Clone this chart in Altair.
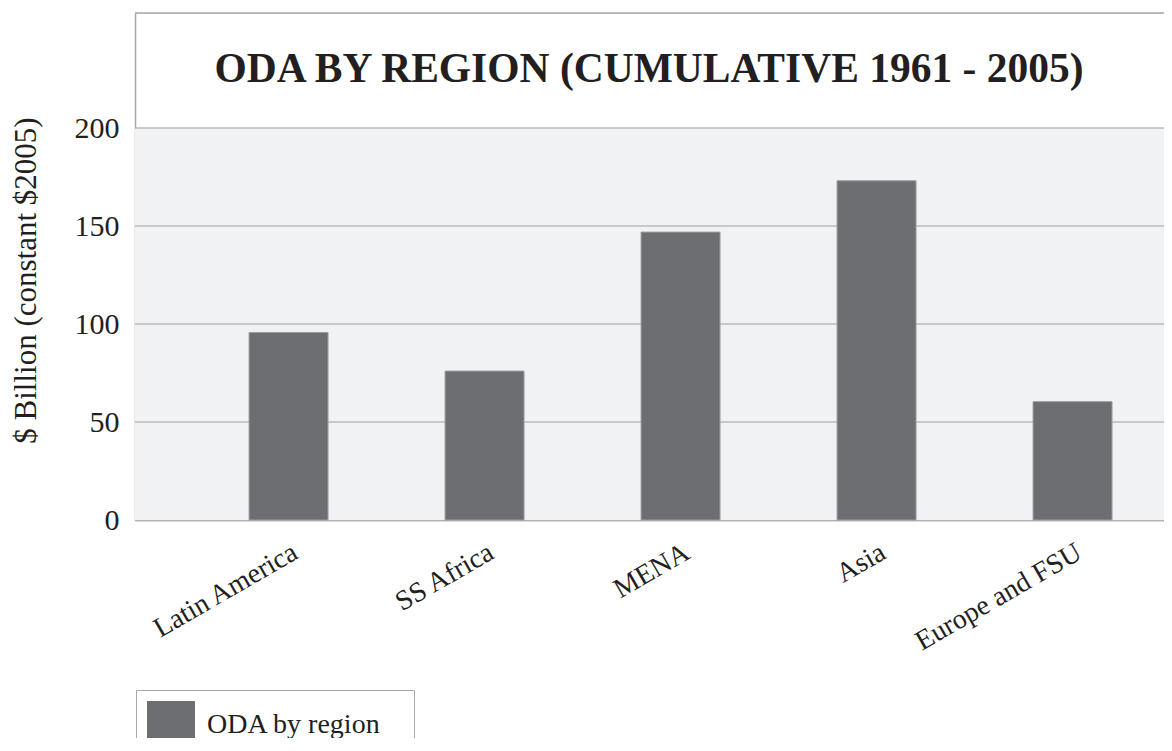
import altair as alt
import pandas as pd

regions = ["Latin America", "SS Africa", "MENA", "Asia", "Europe and FSU"]
values = [95.7, 76.0, 146.9, 173.1, 60.4]
series_name = "ODA by region"
y_ticks = [0, 50, 100, 150, 200]
grid_values = [50, 100, 150, 200]
title_text = "ODA BY REGION (CUMULATIVE 1961 - 2005)"
y_title = "$ Billion (constant $2005)"

W = 1029
H = 507
FONT = "Liberation Serif"
BAR = "#6d6e72"
FRAME = "#a7a8aa"
TXT = "#231f20"

bars_df = pd.DataFrame({"region": regions, "value": values, "series": [series_name] * len(regions)})
bg_df = pd.DataFrame({"y0": [0], "y1": [200]})
grid_df = pd.DataFrame({"v": grid_values})
top_df = pd.DataFrame({"v": [258.7]})
title_df = pd.DataFrame({"t": [title_text]})

yscale = alt.Scale(domain=[0, 258.7], nice=False, zero=True)
xscale = alt.Scale(paddingInner=0.597, paddingOuter=0.4235, align=0.687)

bg = alt.Chart(bg_df).mark_rect(fill="#f1f2f4").encode(
    y=alt.Y("y0:Q", scale=yscale,
            axis=alt.Axis(values=y_ticks, title=y_title, grid=False, domain=True,
                          domainColor=FRAME, domainWidth=1.5, ticks=False,
                          labelFont=FONT, labelFontSize=30, labelColor=TXT, labelPadding=16,
                          titleFont=FONT, titleFontSize=31, titleFontWeight="normal", titleColor=TXT,
                          titleY=267, titlePadding=32)),
    y2="y1:Q",
    x=alt.value(0),
    x2=alt.value(W),
)

grid = alt.Chart(grid_df).mark_rule(color="#b9babd", strokeWidth=1.5).encode(
    y=alt.Y("v:Q", scale=yscale),
    x=alt.value(0),
    x2=alt.value(W),
)

top_line = alt.Chart(top_df).mark_rule(color=FRAME, strokeWidth=1.5).encode(
    y=alt.Y("v:Q", scale=yscale),
    x=alt.value(0),
    x2=alt.value(W),
)

bars = alt.Chart(bars_df).mark_bar(stroke="#9d9ea1", strokeWidth=1).encode(
    x=alt.X("region:N", sort=regions, scale=xscale,
            axis=alt.Axis(title=None, labelAngle=-30, labelFont=FONT, labelFontSize=28,
                          labelColor=TXT, ticks=False, domain=True, domainColor="#b3b4b6",
                          domainWidth=2, labelPadding=18, labelLimit=400)),
    y=alt.Y("value:Q", scale=yscale),
    color=alt.Color("series:N", scale=alt.Scale(range=[BAR]),
                    legend=alt.Legend(title=None, orient="none", legendX=1, legendY=677,
                                      symbolType="square", symbolSize=2304, symbolStrokeWidth=0,
                                      labelFont=FONT, labelFontSize=28, labelColor=TXT,
                                      labelOffset=12, padding=11, strokeColor=FRAME,
                                      labelLimit=400,
                                      labelExpr="datum.label + '\u2800'")),
)

title = alt.Chart(title_df).mark_text(font=FONT, fontSize=41.5, fontWeight="bold", color=TXT,
                                      baseline="middle").encode(
    text="t:N",
    x=alt.value(514),
    y=alt.value(57),
)

chart = alt.layer(bg, grid, top_line, bars, title).properties(
    width=W, height=H,
    autosize=alt.AutoSizeParams(type="none"),
    padding={"left": 127, "top": 5, "right": 0, "bottom": 218},
).configure_view(stroke=None).configure(background="white")

chart.save("out.html", embed_options={"renderer": "svg", "actions": False})
